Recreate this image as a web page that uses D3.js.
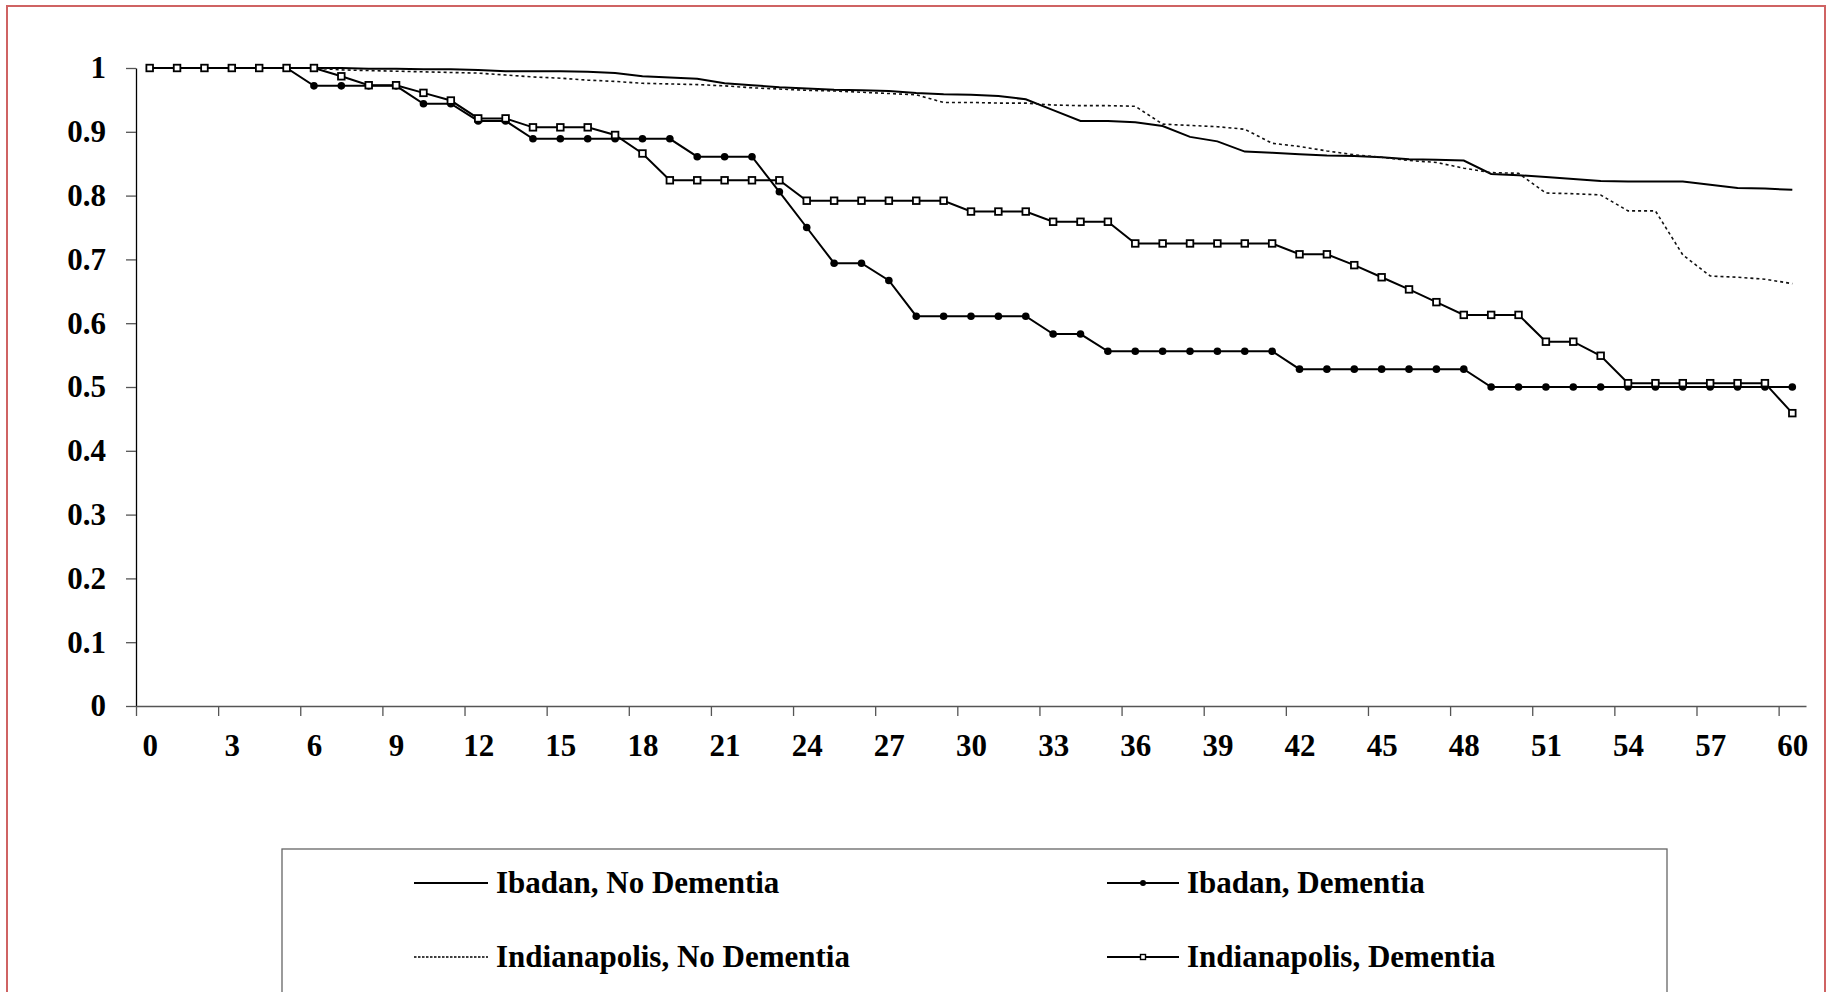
<!DOCTYPE html>
<html>
<head>
<meta charset="utf-8">
<script src="https://cdn.jsdelivr.net/npm/d3@7"></script>
<style>
  body { margin: 0; background: #fff; }
  text { font-family: "Liberation Serif", "Times New Roman", serif; font-weight: bold; fill: #000; }
</style>
</head>
<body>
<div id="chart"></div>
<script>
// months 0..60
var months = d3.range(0, 61);

var yTicks = [0, 0.1, 0.2, 0.3, 0.4, 0.5, 0.6, 0.7, 0.8, 0.9, 1];
var yTickLabels = ["0", "0.1", "0.2", "0.3", "0.4", "0.5", "0.6", "0.7", "0.8", "0.9", "1"];
var xTicks = [0, 3, 6, 9, 12, 15, 18, 21, 24, 27, 30, 33, 36, 39, 42, 45, 48, 51, 54, 57, 60];

// survival values, one per month
var ibadanNoDem = [1, 1, 1, 1, 1, 1, 1, 1, 0.999, 0.999, 0.998, 0.998, 0.997, 0.995, 0.995, 0.995, 0.994, 0.992, 0.987, 0.985,
  0.983, 0.976, 0.973, 0.970, 0.968, 0.966, 0.965, 0.964, 0.961, 0.959, 0.958, 0.956, 0.951, 0.934, 0.917, 0.917, 0.915, 0.909, 0.892, 0.885,
  0.869, 0.867, 0.865, 0.863, 0.862, 0.860, 0.857, 0.856, 0.855, 0.834, 0.832, 0.829, 0.826, 0.823, 0.822, 0.822, 0.822, 0.817, 0.812, 0.811, 0.809];

var ibadanDem = [1, 1, 1, 1, 1, 1, 0.972, 0.972, 0.972, 0.972, 0.944, 0.944, 0.917, 0.917, 0.889, 0.889, 0.889, 0.889, 0.889, 0.889,
  0.861, 0.861, 0.861, 0.806, 0.750, 0.694, 0.694, 0.667, 0.611, 0.611, 0.611, 0.611, 0.611, 0.583, 0.583, 0.556, 0.556, 0.556, 0.556, 0.556,
  0.556, 0.556, 0.528, 0.528, 0.528, 0.528, 0.528, 0.528, 0.528, 0.5, 0.5, 0.5, 0.5, 0.5, 0.5, 0.5, 0.5, 0.5, 0.5, 0.5, 0.5];

var indyNoDem = [1, 1, 1, 1, 1, 1, 1, 0.997, 0.996, 0.995, 0.994, 0.993, 0.992, 0.989, 0.986, 0.984, 0.981, 0.979, 0.976, 0.975,
  0.974, 0.972, 0.969, 0.967, 0.965, 0.964, 0.962, 0.960, 0.958, 0.946, 0.946, 0.945, 0.945, 0.942, 0.941, 0.941, 0.940, 0.912, 0.910, 0.908,
  0.904, 0.882, 0.877, 0.870, 0.864, 0.860, 0.855, 0.852, 0.843, 0.836, 0.835, 0.804, 0.803, 0.801, 0.776, 0.776, 0.707, 0.674, 0.672, 0.669, 0.662];

var indyDem = [1, 1, 1, 1, 1, 1, 1, 0.987, 0.973, 0.973, 0.961, 0.949, 0.921, 0.921, 0.907, 0.907, 0.907, 0.895, 0.866, 0.824,
  0.824, 0.824, 0.824, 0.824, 0.792, 0.792, 0.792, 0.792, 0.792, 0.792, 0.775, 0.775, 0.775, 0.759, 0.759, 0.759, 0.725, 0.725, 0.725, 0.725,
  0.725, 0.725, 0.708, 0.708, 0.691, 0.672, 0.653, 0.633, 0.613, 0.613, 0.613, 0.571, 0.571, 0.549, 0.506, 0.506, 0.506, 0.506, 0.506, 0.506, 0.459];

var seriesNames = ["Ibadan, No Dementia", "Ibadan, Dementia", "Indianapolis, No Dementia", "Indianapolis, Dementia"];

var series = [
  {name: seriesNames[0], values: ibadanNoDem, dash: null, marker: null},
  {name: seriesNames[1], values: ibadanDem, dash: null, marker: "circle"},
  {name: seriesNames[2], values: indyNoDem, dash: "3,3", marker: null},
  {name: seriesNames[3], values: indyDem, dash: null, marker: "square"}
];

var W = 1828, H = 992;
var plot = {left: 136, right: 1806, top: 68, bottom: 706};

var svg = d3.select("#chart").append("svg")
    .attr("width", W)
    .attr("height", H);

// outer frame
svg.append("rect")
    .attr("x", 7).attr("y", 6)
    .attr("width", 1818).attr("height", 1010)
    .attr("fill", "none")
    .attr("stroke", "#cf6363")
    .attr("stroke-width", 2);

// category axis: points sit in the middle of each month slot
var xScale = d3.scaleLinear().domain([-0.5, 60.5]).range([plot.left, plot.right]);
var yScale = d3.scaleLinear().domain([0, 1]).range([plot.bottom, plot.top]);

// y axis
var yAxis = d3.axisLeft(yScale)
    .tickValues(yTicks)
    .tickFormat(function(d, i) { return yTickLabels[i]; })
    .tickSize(10)
    .tickPadding(20)
    .tickSizeOuter(0);

var gy = svg.append("g")
    .attr("transform", `translate(${plot.left},0)`)
    .call(yAxis);
gy.select(".domain").attr("stroke", "#000").attr("stroke-width", 1.3);
gy.selectAll(".tick line").attr("stroke", "#555").attr("stroke-width", 1.3);
gy.selectAll(".tick text").style("font-size", "31px").attr("fill", "#000");

// x axis tick marks on the slot borders
var xAxisTicks = d3.axisBottom(xScale)
    .tickValues(xTicks.map(function(m) { return m - 0.5; }))
    .tickFormat("")
    .tickSize(10)
    .tickSizeOuter(0);

var gx = svg.append("g")
    .attr("transform", `translate(0,${plot.bottom})`)
    .call(xAxisTicks);
gx.select(".domain").attr("stroke", "#555").attr("stroke-width", 1.3);
gx.selectAll(".tick line").attr("stroke", "#555").attr("stroke-width", 1.3);

// x labels centred on the months
var xAxisLabels = d3.axisBottom(xScale)
    .tickValues(xTicks)
    .tickFormat(function(d) { return d; })
    .tickSize(0)
    .tickPadding(28);

var gxl = svg.append("g")
    .attr("transform", `translate(0,${plot.bottom})`)
    .call(xAxisLabels);
gxl.select(".domain").remove();
gxl.selectAll(".tick text").style("font-size", "31px").attr("fill", "#000");

// series
var line = d3.line()
    .x(function(d, i) { return xScale(months[i]); })
    .y(function(d) { return yScale(d); });

var lineAndDots = svg.append("g").attr("class", "line-and-dots");

series.forEach(function(s) {
  lineAndDots.append("path")
      .datum(s.values)
      .attr("fill", "none")
      .attr("stroke", s.dash ? "#111" : "#000")
      .attr("stroke-width", s.dash ? 1.6 : 2)
      .attr("stroke-dasharray", s.dash)
      .attr("d", line);

  if (s.marker == "circle") {
    lineAndDots.selectAll(null)
        .data(s.values)
      .enter().append("circle")
        .attr("cx", function(d, i) { return xScale(months[i]); })
        .attr("cy", function(d) { return yScale(d); })
        .attr("r", 3.8)
        .attr("fill", "#000");
  } else if (s.marker == "square") {
    lineAndDots.selectAll(null)
        .data(s.values)
      .enter().append("rect")
        .attr("x", function(d, i) { return xScale(months[i]) - 3.3; })
        .attr("y", function(d) { return yScale(d) - 3.3; })
        .attr("width", 6.6)
        .attr("height", 6.6)
        .attr("fill", "#fff")
        .attr("stroke", "#000")
        .attr("stroke-width", 1.8);
  }
});

// legend
var legend = svg.append("g").attr("class", "legend");
legend.append("rect")
    .attr("x", 282).attr("y", 849)
    .attr("width", 1385).attr("height", 160)
    .attr("fill", "#fff")
    .attr("stroke", "#666")
    .attr("stroke-width", 1.3);

var legendPos = [
  {x1: 414, x2: 488, y: 883},
  {x1: 1107, x2: 1179, y: 883},
  {x1: 414, x2: 488, y: 957},
  {x1: 1107, x2: 1179, y: 957}
];

series.forEach(function(s, i) {
  var p = legendPos[i];
  var item = legend.append("g");
  item.append("line")
      .attr("x1", p.x1).attr("x2", p.x2)
      .attr("y1", p.y).attr("y2", p.y)
      .attr("stroke", "#000")
      .attr("stroke-width", s.dash ? 1.5 : 2)
      .attr("stroke-dasharray", s.dash ? "2.5,1.5" : null);
  var mx = (p.x1 + p.x2) / 2;
  if (s.marker == "circle") {
    item.append("circle").attr("cx", mx).attr("cy", p.y).attr("r", 3).attr("fill", "#000");
  } else if (s.marker == "square") {
    item.append("rect").attr("x", mx - 2.5).attr("y", p.y - 2.5)
        .attr("width", 5).attr("height", 5)
        .attr("fill", "#fff").attr("stroke", "#000").attr("stroke-width", 1.4);
  }
  item.append("text")
      .attr("x", p.x2 + 8)
      .attr("y", p.y + 10)
      .style("font-size", "31px")
      .text(s.name);
});
</script>
</body>
</html>
